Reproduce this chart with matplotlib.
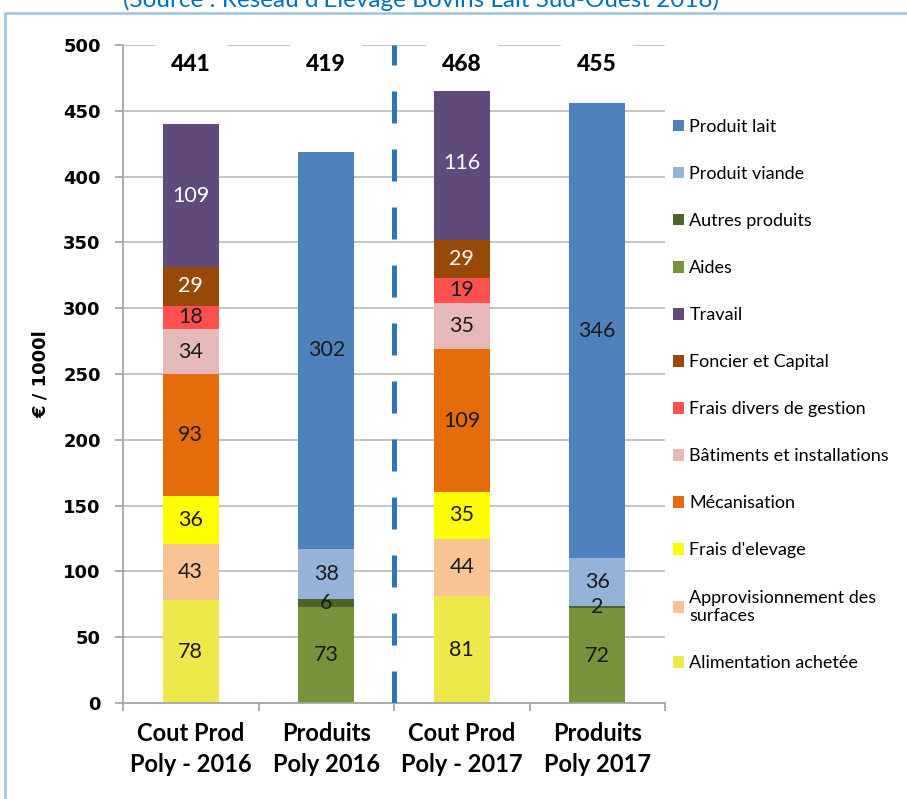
import matplotlib
matplotlib.use("Agg")
import matplotlib.pyplot as plt
from matplotlib.patches import Rectangle, Patch
import numpy as np

categories = ["Cout Prod\nPoly - 2016", "Produits\nPoly 2016", "Cout Prod\nPoly - 2017", "Produits\nPoly 2017"]

# stacking order bottom -> top
alimentation = [78, 0, 81, 0]
approvisionnement = [43, 0, 44, 0]
frais_elevage = [36, 0, 35, 0]
mecanisation = [93, 0, 109, 0]
batiments = [34, 0, 35, 0]
frais_divers = [18, 0, 19, 0]
foncier = [29, 0, 29, 0]
travail = [109, 0, 116, 0]
aides = [0, 73, 0, 72]
autres = [0, 6, 0, 2]
viande = [0, 38, 0, 36]
lait = [0, 302, 0, 346]
totals = [441, 419, 468, 455]

series = [
    ("Alimentation achetée", alimentation, "#EEE94A", "#1a1a1a"),
    ("Approvisionnement des\nsurfaces", approvisionnement, "#FAC393", "#1a1a1a"),
    ("Frais d'elevage", frais_elevage, "#FFFF00", "#1a1a1a"),
    ("Mécanisation", mecanisation, "#E46C0A", "#1a1a1a"),
    ("Bâtiments et installations", batiments, "#E6B9B8", "#1a1a1a"),
    ("Frais divers de gestion", frais_divers, "#FF5050", "#1a1a1a"),
    ("Foncier et Capital", foncier, "#984807", "white"),
    ("Travail", travail, "#604A7B", "white"),
    ("Aides", aides, "#77933C", "#1a1a1a"),
    ("Autres produits", autres, "#4F6228", "#1a1a1a"),
    ("Produit viande", viande, "#95B3D7", "#1a1a1a"),
    ("Produit lait", lait, "#4F81BD", "#1a1a1a"),
]

fig = plt.figure(figsize=(9.07, 7.99), dpi=100)
ax = fig.add_axes([123/907, 1-703/799, (665-123)/907, (703-45)/799])

x = np.arange(len(categories))
bottom = np.zeros(len(categories))
handles = []
for name, vals, color, tcol in series:
    vals = np.array(vals, dtype=float)
    ax.bar(x, vals, bottom=bottom, width=0.41, color=color, zorder=2, label=name)
    for xi, v, b in zip(x, vals, bottom):
        if v > 0:
            ax.text(xi, b + v/2, f"{int(v)}", ha="center", va="center", color=tcol,
                    fontsize=15.5, family="Lato", zorder=3)
    bottom += vals
    handles.append(Patch(facecolor=color, label=name))

for xi, t in zip(x, totals):
    ax.text(xi, 485, str(t), ha="center", va="center", fontsize=16.5, fontweight=900,
            family="Lato", zorder=4,
            bbox=dict(facecolor="white", edgecolor="none", boxstyle="square,pad=0.7"))

ax.axvline(1.5, ymin=0.0, ymax=1.0, color="#2E75B6", lw=3.6, linestyle=(0, (6.4, 5.2)), zorder=5)

ax.set_xlim(-0.5, 3.5)
ax.set_ylim(0, 500)
ax.set_yticks(np.arange(0, 501, 50))
ax.yaxis.grid(True, color="#BFBFBF", lw=1.3, zorder=0)
ax.set_axisbelow(True)
for s in ["top", "right"]:
    ax.spines[s].set_visible(False)
for s in ["left", "bottom"]:
    ax.spines[s].set_color("#A6A6A6")
    ax.spines[s].set_linewidth(1.3)
ax.tick_params(axis="y", colors="#A6A6A6", length=6, width=1.3, labelcolor="black", pad=10)
ax.set_xticks(np.arange(-0.5, 3.6, 1.0))
ax.tick_params(axis="x", which="major", colors="#A6A6A6", length=6, width=1.3, labelbottom=False)
ax.set_xticks(x, minor=True)
ax.set_xticklabels(categories, minor=True, fontsize=17, fontweight="bold", family="Lato", linespacing=1.4)
ax.tick_params(axis="x", which="minor", length=0, pad=14, labelcolor="black")
for lab in ax.get_yticklabels():
    lab.set_fontweight("bold")
    lab.set_fontsize(13)
    lab.set_family("DejaVu Sans")
ax.set_ylabel("€ / 1000l", fontsize=13, fontweight="bold", family="DejaVu Sans", labelpad=10)

fig.legend(handles=handles[::-1], loc="upper left", bbox_to_anchor=(673/907, 1-119/799),
           frameon=False, prop={"family": "Lato", "size": 13},
           handlelength=0.6, handleheight=0.6, handletextpad=0.3,
           labelspacing=1.72, borderpad=0, borderaxespad=0)

fig.patches.append(Rectangle((5/907, -0.05), 1, 1.05-13/799, transform=fig.transFigure,
                             facecolor="none", edgecolor="#9DC3E6", lw=1.8, zorder=0))
fig.text(421/907, 1-7/799, "(Source : Réseau d'Elevage Bovins Lait Sud-Ouest 2018)",
         ha="center", va="baseline", color="#0070C0", fontsize=17.5, family="Lato")

fig.savefig("out.png", dpi=100)
